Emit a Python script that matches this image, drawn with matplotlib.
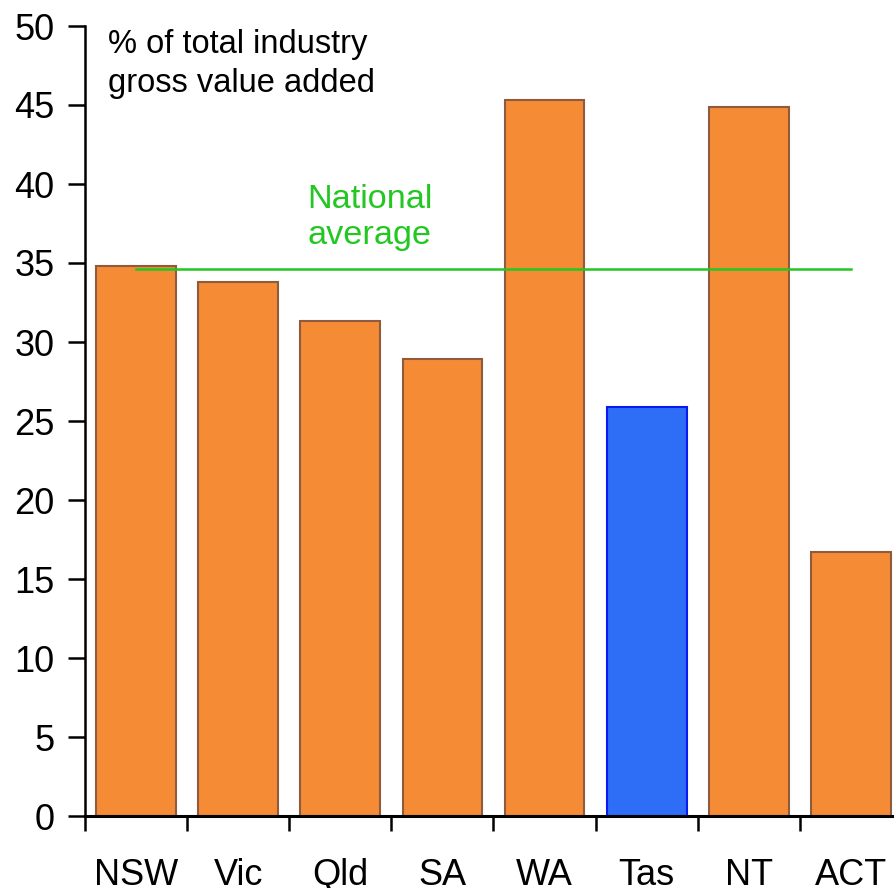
import matplotlib.pyplot as plt
import numpy as np

plt.rcParams['font.family'] = ['Liberation Sans', 'DejaVu Sans']

# Share of total industry gross value added, by state/territory
states = ['NSW', 'Vic', 'Qld', 'SA', 'WA', 'Tas', 'NT', 'ACT']
share = [34.8, 33.8, 31.3, 28.9, 45.3, 25.9, 44.9, 16.7]
national_avg = 34.6
highlight = 'Tas'

orange = '#F58B35'
orange_edge = '#8E5B3E'
blue = '#2E6EF7'
blue_edge = '#0A1AF0'
green = '#22C722'

fig = plt.figure(figsize=(8.95, 8.88), dpi=100)
# axes runs slightly past the right edge of the figure
ax = fig.add_axes([85/895, 1 - 816/888, 817/895, 790/888])

x = np.arange(len(states))
colors = [blue if s == highlight else orange for s in states]
edges = [blue_edge if s == highlight else orange_edge for s in states]
ax.bar(x, share, width=0.78, color=colors, edgecolor=edges, linewidth=1.5, zorder=2)

# national average line spans from first to last bar centre
ax.plot([x[0], x[-1]], [national_avg, national_avg], color=green, lw=1.8, zorder=3)
ax.text(1.68, 36.2, 'National\naverage', color=green, fontsize=24.7,
        ha='left', va='baseline', linespacing=1.2)

ax.text(-0.275, 45.8, '% of total industry\ngross value added', fontsize=23.5,
        ha='left', va='baseline', linespacing=1.35)

ax.set_xlim(-0.5, len(states) - 0.5)
ax.set_ylim(0, 50)
ax.set_yticks(np.arange(0, 51, 5))
ax.set_xticks(x)
ax.set_xticklabels(states)
ax.set_xticks(np.arange(-0.5, len(states), 1), minor=True)

ax.tick_params(axis='x', which='major', length=0, pad=30, labelsize=26)
ax.tick_params(axis='x', which='minor', length=11, width=1.8, direction='out')
ax.tick_params(axis='y', length=12, width=1.8, direction='out', pad=10, labelsize=26)

for side in ('top', 'right'):
    ax.spines[side].set_visible(False)
ax.spines['left'].set_linewidth(1.8)
ax.spines['bottom'].set_linewidth(2.2)

fig.savefig('out.png', dpi=100)
